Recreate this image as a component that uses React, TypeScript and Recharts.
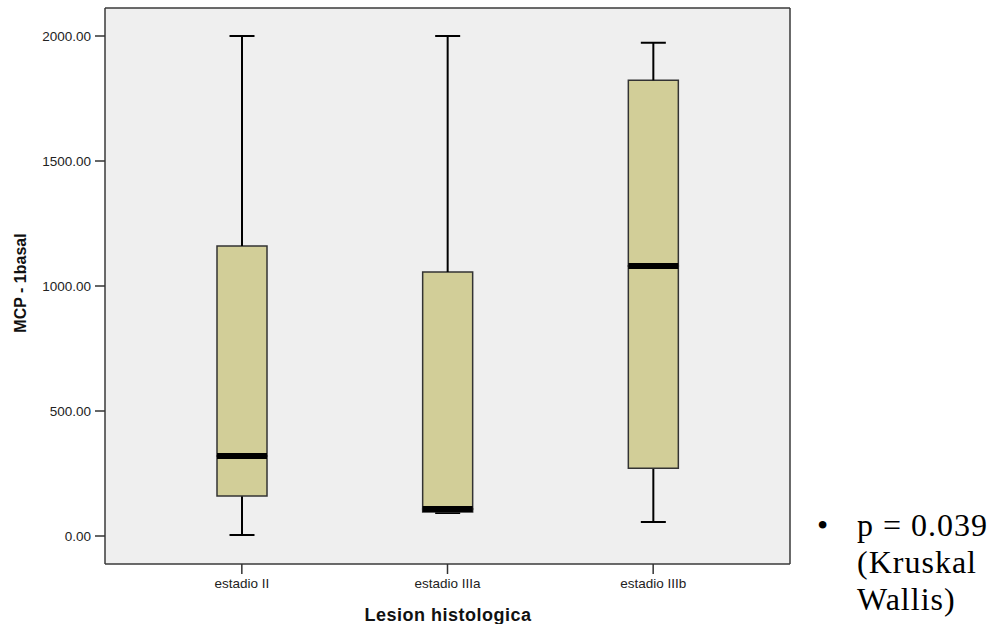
import { Bar, ComposedChart, XAxis, YAxis, CartesianGrid } from 'recharts';

// Box-plot summaries per histological stage
const categories = ['estadio II', 'estadio IIIa', 'estadio IIIb'];
const whiskerLow = [4, 92, 56];
const quartile1 = [160, 96, 271];
const medians = [320, 108, 1080];
const quartile3 = [1160, 1056, 1823];
const whiskerHigh = [2000, 2000, 1973];
const yTicks = [0, 500, 1000, 1500, 2000];

// stacked segments: invisible base, lower whisker, lower box, upper box, upper whisker
const data = categories.map((name, i) => ({
  name,
  base: whiskerLow[i],
  lowWhisker: quartile1[i] - whiskerLow[i],
  lowBox: medians[i] - quartile1[i],
  highBox: quartile3[i] - medians[i],
  highWhisker: whiskerHigh[i] - quartile3[i],
}));

const BOX_FILL = '#d2ce98';
const BOX_STROKE = '#333';
const FRAME = { stroke: '#3a3a3a', strokeWidth: 1.5 };

const LowWhisker = (props: any) => {
  const { x, y, width, height } = props;
  const cx = x + width / 2;
  return (
    <g>
      <line x1={cx} x2={cx} y1={y} y2={y + height} stroke="#000" strokeWidth={2} />
      <line x1={x + width / 4} x2={x + (3 * width) / 4} y1={y + height} y2={y + height} stroke="#000" strokeWidth={2} />
    </g>
  );
};

const HighWhisker = (props: any) => {
  const { x, y, width, height } = props;
  const cx = x + width / 2;
  return (
    <g>
      <line x1={cx} x2={cx} y1={y} y2={y + height} stroke="#000" strokeWidth={2} />
      <line x1={x + width / 4} x2={x + (3 * width) / 4} y1={y} y2={y} stroke="#000" strokeWidth={2} />
    </g>
  );
};

const LowBox = (props: any) => {
  const { x, y, width, height } = props;
  return <rect x={x} y={y} width={width} height={height} fill={BOX_FILL} stroke={BOX_STROKE} strokeWidth={1.5} />;
};

// upper half of the box, with the median drawn on its lower edge
const HighBox = (props: any) => {
  const { x, y, width, height } = props;
  return (
    <g>
      <rect x={x} y={y} width={width} height={height} fill={BOX_FILL} stroke={BOX_STROKE} strokeWidth={1.5} />
      <line x1={x} x2={x + width} y1={y + height} y2={y + height} stroke="#000" strokeWidth={6} />
    </g>
  );
};

const tickStyle = { fill: '#222', fontSize: 13.5, fontFamily: 'Liberation Sans, Arial, sans-serif' };
const noteFont = '32px "Liberation Serif", "Times New Roman", serif';

export default function App() {
  return (
    <div style={{ position: 'absolute', left: 0, top: 0, width: 994, height: 624, background: '#fff' }}>
      <ComposedChart
        width={994}
        height={624}
        data={data}
        margin={{ top: 7, right: 203, bottom: 30, left: 0 }}
        barSize={50}
      >
        <CartesianGrid fill="#efefef" horizontal={false} vertical={false} />
        <XAxis
          dataKey="name"
          type="category"
          padding={{ left: 34, right: 34 }}
          height={30}
          tickSize={10}
          tickMargin={4}
          tick={tickStyle}
          axisLine={FRAME}
          tickLine={{ stroke: '#333', strokeWidth: 1.5 }}
        />
        <XAxis
          xAxisId="top"
          orientation="top"
          dataKey="name"
          type="category"
          height={1}
          tick={false}
          tickLine={false}
          axisLine={FRAME}
        />
        <YAxis
          type="number"
          domain={[-112, 2112]}
          ticks={yTicks}
          allowDataOverflow
          width={105}
          tickSize={10}
          tickMargin={4}
          tick={tickStyle}
          tickFormatter={(v: number) => v.toFixed(2)}
          axisLine={FRAME}
          tickLine={{ stroke: '#333', strokeWidth: 1.5 }}
        />
        <YAxis
          yAxisId="right"
          orientation="right"
          type="number"
          domain={[-112, 2112]}
          width={1}
          tick={false}
          tickLine={false}
          axisLine={FRAME}
        />
        <Bar dataKey="base" stackId="box" fill="transparent" isAnimationActive={false} />
        <Bar dataKey="lowWhisker" stackId="box" shape={LowWhisker} isAnimationActive={false} />
        <Bar dataKey="lowBox" stackId="box" shape={LowBox} isAnimationActive={false} />
        <Bar dataKey="highBox" stackId="box" shape={HighBox} isAnimationActive={false} />
        <Bar dataKey="highWhisker" stackId="box" shape={HighWhisker} isAnimationActive={false} />
      </ComposedChart>

      <div
        style={{
          position: 'absolute',
          left: 20.7,
          top: 283,
          transform: 'translate(-50%, -50%) rotate(-90deg)',
          whiteSpace: 'nowrap',
          font: 'bold 16px "Liberation Sans", Arial, sans-serif',
          color: '#111',
        }}
      >
        MCP - 1basal
      </div>
      <div
        style={{
          position: 'absolute',
          left: 448,
          top: 604.7,
          transform: 'translateX(-50%)',
          whiteSpace: 'nowrap',
          font: 'bold 18px "Liberation Sans", Arial, sans-serif',
          letterSpacing: 0.5,
          color: '#111',
        }}
      >
        Lesion histologica
      </div>

      <div
        style={{
          position: 'absolute',
          left: 817,
          top: 507,
          font: noteFont,
          lineHeight: '37px',
          color: '#000',
        }}
      >
        •
      </div>
      <div
        style={{
          position: 'absolute',
          left: 857,
          top: 507,
          font: noteFont,
          lineHeight: '37px',
          letterSpacing: 1,
          color: '#000',
          whiteSpace: 'nowrap',
        }}
      >
        <div>p = 0.039</div>
        <div>(Kruskal</div>
        <div>Wallis)</div>
      </div>
    </div>
  );
}
